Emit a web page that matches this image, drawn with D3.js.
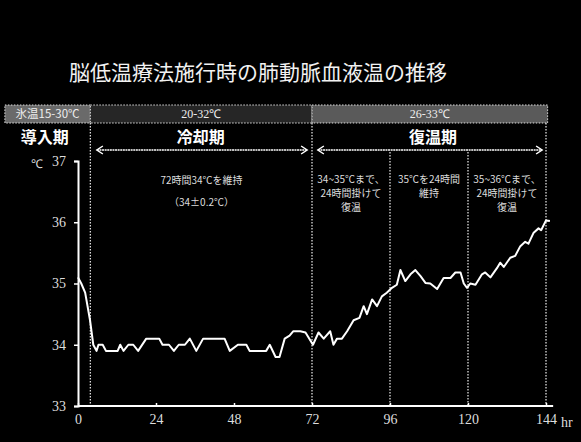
<!DOCTYPE html>
<html>
<head>
<meta charset="utf-8">
<script src="https://cdn.jsdelivr.net/npm/d3@7"></script>
<style>
  body { margin: 0; background: #000; }
  svg { display: block; }
</style>
</head>
<body>
<div id="chart"></div>
<script>
// hours after start of treatment
const hours = [0, 1, 2.2, 3.7, 4.7, 5.7, 6.3, 7.6, 8.6, 12.2, 13, 14, 15.5, 17, 18.5, 21, 25, 26, 28, 29.5,
  31, 32.9, 34.4, 36.4, 38.5, 45.1, 46.7, 49.2, 51.8, 52.8, 57.9, 59, 60.8, 62, 63.6, 65.1, 66.2, 68.4, 70, 72.3,
  74, 75.6, 77.6, 78.6, 79.7, 81.2, 82.8, 84.8, 86.6, 87.9, 88.9, 90.5, 92, 93.5, 95, 96.6, 98.1, 99.2, 100.7, 102.3,
  103.8, 105.4, 106.9, 108.4, 110.5, 112.5, 114.6, 116.1, 117.7, 118.7, 119.7, 120.7, 122.3, 124.3, 125.3, 126.9, 128.9, 129.9, 131, 133,
  134.5, 136.1, 137.6, 138.6, 140.2, 141.7, 142.5, 144, 145.2];
// pulmonary artery blood temperature (℃)
const temps = [35.1, 35.0, 34.85, 34.4, 34.0, 33.9, 34.0, 34.0, 33.9, 33.9, 34.0, 33.9, 34.0, 34.0, 33.9, 34.1, 34.1, 34.0, 34.0, 33.9,
  34.0, 34.0, 34.1, 33.9, 34.1, 34.1, 33.9, 34.0, 34.0, 33.9, 33.9, 34.0, 33.8, 33.8, 34.1, 34.15, 34.22, 34.22, 34.2, 34.0,
  34.2, 34.1, 34.22, 34.0, 34.1, 34.1, 34.22, 34.4, 34.44, 34.63, 34.5, 34.74, 34.63, 34.79, 34.85, 34.93, 34.98, 35.22, 35.04, 35.15,
  35.22, 35.12, 35.01, 35.0, 34.91, 35.09, 35.09, 35.18, 35.18, 35.0, 34.93, 35.0, 34.98, 35.15, 35.18, 35.1, 35.25, 35.34, 35.27, 35.42,
  35.45, 35.61, 35.68, 35.65, 35.83, 35.9, 35.87, 36.03, 36.02];

const xTicks = [0, 24, 48, 72, 96, 120, 144];
const yTicks = [33, 34, 35, 36, 37];

const title = '脳低温療法施行時の肺動脈血液温の推移';
// water temperature band: [from hr, to hr, label]
const waterBands = [[-22.5, 3.8, '氷温15-30℃'], [3.8, 72, '20-32℃'], [72, 144.5, '26-33℃']];
const phases = [['導入期', -10.2], ['冷却期', 37.8], ['復温期', 109.2]];
const phaseArrows = [[5.8, 70.5], [73.8, 142.8]];
const dividerFull = [3.8, 72, 144];
const dividerShort = [96, 120];
const coolNotes = ['72時間34℃を維持', '（34±0.2℃）'];
const warmNotes = [
  [84, ['34~35℃まで、', '24時間掛けて', '復温']],
  [108, ['35℃を24時間', '維持']],
  [132, ['35~36℃まで、', '24時間掛けて', '復温']]
];

const w = 581;
const h = 442;
const x = d3.scaleLinear().domain([0, 144]).range([78, 546]);
const y = d3.scaleLinear().domain([33, 37]).range([406, 161]);
const cjk = '"Noto Sans CJK JP", sans-serif';
const serif = '"Liberation Serif", serif';

const svg = d3.select('#chart').append('svg')
  .attr('width', w)
  .attr('height', h);

svg.append('rect').attr('width', w).attr('height', h).attr('fill', '#000');

svg.append('text')
  .attr('x', 258).attr('y', 80)
  .attr('text-anchor', 'middle')
  .attr('fill', '#f2f2f2')
  .style('font-family', cjk)
  .style('font-size', '21px')
  .text(title);

// header band
const bandFill = ['#6a6a6a', '#262626', '#5a5a5a'];
svg.selectAll('.band')
  .data(waterBands)
  .enter().append('rect')
  .attr('class', 'band')
  .attr('x', d => x(d[0]))
  .attr('y', 105)
  .attr('width', d => x(d[1]) - x(d[0]))
  .attr('height', 18)
  .attr('fill', (d, i) => bandFill[i])
  .attr('stroke', '#ddd')
  .attr('stroke-dasharray', '1.5,1.5')
  .attr('stroke-width', 1);

svg.selectAll('.bandlabel')
  .data(waterBands)
  .enter().append('text')
  .attr('x', d => (x(d[0]) + x(d[1])) / 2)
  .attr('y', 118)
  .attr('text-anchor', 'middle')
  .attr('fill', '#eee')
  .style('font-family', (d, i) => i === 0 ? cjk : serif)
  .style('font-size', (d, i) => i === 0 ? '11.5px' : '12px')
  .text(d => d[2]);

// dotted dividers
svg.selectAll('.divfull')
  .data(dividerFull)
  .enter().append('line')
  .attr('x1', d => x(d)).attr('x2', d => x(d))
  .attr('y1', 123).attr('y2', 406)
  .attr('stroke', '#ddd')
  .attr('stroke-width', 1.3)
  .attr('stroke-dasharray', '1.5,1.5');

svg.selectAll('.divshort')
  .data(dividerShort)
  .enter().append('line')
  .attr('x1', d => x(d)).attr('x2', d => x(d))
  .attr('y1', 152).attr('y2', 406)
  .attr('stroke', '#ddd')
  .attr('stroke-width', 1.3)
  .attr('stroke-dasharray', '1.5,1.5');

// phase titles
svg.selectAll('.phase')
  .data(phases)
  .enter().append('text')
  .attr('x', d => x(d[1]))
  .attr('y', 143)
  .attr('text-anchor', 'middle')
  .attr('fill', '#fff')
  .style('font-family', cjk)
  .style('font-size', '16px')
  .style('font-weight', 'bold')
  .text(d => d[0]);

// double headed arrows
phaseArrows.forEach(a => {
  const x1 = x(a[0]), x2 = x(a[1]), yy = 150;
  svg.append('line')
    .attr('x1', x1).attr('x2', x2).attr('y1', yy).attr('y2', yy)
    .attr('stroke', '#fff').attr('stroke-width', 1.5)
    .attr('stroke-dasharray', '2,0.6');
  svg.append('path')
    .attr('d', `M${x1 + 6},${yy - 4}L${x1},${yy}L${x1 + 6},${yy + 4}M${x2 - 6},${yy - 4}L${x2},${yy}L${x2 - 6},${yy + 4}`)
    .attr('fill', 'none').attr('stroke', '#fff').attr('stroke-width', 1.5);
});

// notes
svg.selectAll('.coolnote')
  .data(coolNotes)
  .enter().append('text')
  .attr('x', x(38))
  .attr('y', (d, i) => 184 + i * 22)
  .attr('text-anchor', 'middle')
  .attr('fill', '#ddd')
  .style('font-family', cjk)
  .style('font-size', '10px')
  .text(d => d);

warmNotes.forEach(n => {
  svg.selectAll(null)
    .data(n[1])
    .enter().append('text')
    .attr('x', x(n[0]))
    .attr('y', (d, i) => 183 + i * 14)
    .attr('text-anchor', 'middle')
    .attr('fill', '#ddd')
    .style('font-family', cjk)
    .style('font-size', '10px')
    .text(d => d);
});

// axes
const xAxis = d3.axisBottom(x).tickValues(xTicks).tickFormat(d3.format('d')).tickSize(-3).tickPadding(8);
const gx = svg.append('g')
  .attr('transform', `translate(0, ${y(33)})`)
  .call(xAxis);
gx.select('.domain').attr('d', `M${x(0)},0H${x(146.2)}`);

const yAxis = d3.axisLeft(y).tickValues(yTicks).tickFormat(d3.format('d')).tickSize(4).tickPadding(8);
const gy = svg.append('g')
  .attr('transform', `translate(${x(0)}, 0)`)
  .call(yAxis);

svg.selectAll('.domain').attr('stroke', '#fff').attr('stroke-width', 2);
svg.selectAll('.tick line').attr('stroke', '#fff').attr('stroke-width', 1.5);
svg.selectAll('.tick text')
  .attr('fill', '#ddd')
  .style('font-family', serif)
  .style('font-size', '14px');

svg.append('text')
  .attr('x', 561).attr('y', 427)
  .attr('fill', '#ddd')
  .style('font-family', serif)
  .style('font-size', '14px')
  .text('hr');

svg.append('text')
  .attr('x', 31).attr('y', 168)
  .attr('fill', '#ddd')
  .style('font-family', serif)
  .style('font-size', '12px')
  .text('℃');

// temperature line
const line = d3.line()
  .x((d, i) => x(hours[i]))
  .y(d => y(d));

svg.append('path')
  .datum(temps)
  .attr('d', line)
  .attr('fill', 'none')
  .attr('stroke', '#fff')
  .attr('stroke-width', 2)
  .attr('stroke-linejoin', 'round');
</script>
</body>
</html>
